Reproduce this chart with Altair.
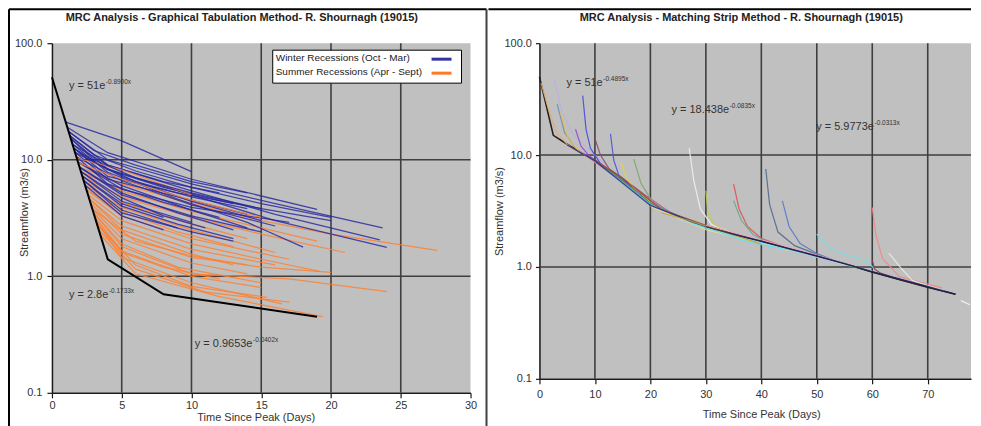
import altair as alt
import pandas as pd

FONT = "Liberation Sans"
TXT = "#333333"
GRID = "#3f3f3f"
BLUE = "#2626a0"
ORANGE = "#ff7f2e"

left_title = "MRC Analysis - Graphical Tabulation Method- R. Shournagh (19015)"
right_title = "MRC Analysis - Matching Strip Method - R. Shournagh (19015)"
y_title = "Streamflow (m3/s)"
x_title = "Time Since Peak (Days)"
legend_labels = ["Winter Recessions (Oct - Mar)", "Summer Recessions (Apr - Sept)"]
legend_colors = ["#3434a4", "#ff7a28"]

y_ticks = [0.1, 1, 10, 100]
h_grid = [1, 10]
left_x_ticks = [0, 5, 10, 15, 20, 25, 30]
left_v_grid = [5, 10, 15, 20, 25]
right_x_ticks = [0, 10, 20, 30, 40, 50, 60, 70]
right_v_grid = [10, 20, 30, 40, 50, 60, 70]

# ---------------- left panel: master recession (black) ----------------
mrc_x = [0, 4, 8, 19]
mrc_y = [51, 1.4, 0.7, 0.45]

winter_x = [
    [1.0, 5, 10],
    [1.1, 4, 10, 19],
    [1.2, 4, 10, 16, 23.7],
    [1.3, 4, 10, 16, 23.5],
    [1.4, 4, 10, 16, 24],
    [1.5, 4, 9, 14, 18],
    [1.5, 4, 8, 12],
    [1.6, 4, 8, 13],
    [1.6, 4, 9, 15],
    [1.7, 4, 9, 14],
    [1.7, 5, 10, 15],
    [1.8, 5, 10, 16],
    [1.8, 4, 8, 12],
    [1.9, 5, 10, 14],
    [1.9, 5, 10, 17],
    [2.0, 5, 9, 13],
    [2.0, 5, 10, 15],
    [2.1, 5, 8, 11],
    [2.1, 5, 10],
    [2.2, 5, 8],
    [2.2, 5, 9, 13],
    [2.3, 5, 9],
    [2.3, 5, 10, 13],
    [2.4, 5, 8],
    [1.2, 3, 6, 10, 14],
    [1.3, 3, 6, 10, 15, 20],
    [1.4, 3, 6, 10, 15, 20],
    [1.6, 3, 6, 10, 14],
]
winter_y = [
    [21, 14.5, 7.9],
    [19, 11.5, 6.8, 3.75],
    [17.5, 10, 6.2, 4.2, 2.6],
    [16, 9, 5.4, 3.4, 2.05],
    [15, 8.3, 5.0, 3.0, 1.77],
    [13.5, 7.8, 4.6, 2.9, 1.78],
    [13.5, 9, 6.5, 5.2],
    [12.5, 8.2, 5.8, 4.2],
    [12.5, 7.2, 5.2, 3.8],
    [11.5, 6.8, 4.8, 3.4],
    [11.5, 7.2, 4.4, 3.0],
    [10.5, 6.6, 4.1, 2.7],
    [10.5, 6.2, 4.3, 3.2],
    [9.5, 6.0, 3.7, 2.6],
    [9.5, 5.6, 3.9, 2.9],
    [8.6, 5.2, 3.5, 2.5],
    [8.6, 5.0, 3.3, 2.4],
    [7.9, 4.7, 3.3, 2.6],
    [7.9, 4.4, 2.9],
    [7.2, 4.2, 3.2],
    [7.2, 4.0, 2.8, 2.1],
    [6.6, 3.7, 2.6],
    [6.6, 3.5, 2.4, 2.0],
    [6.0, 3.3, 2.5],
    [17.5, 12, 9, 6.5, 5.2],
    [16, 11, 8, 5.8, 4.2, 3.2],
    [15, 10, 7, 5.2, 3.8, 3.0],
    [12.5, 9.5, 6.5, 4.8, 3.8],
]

summer_x = [
    [2.0, 5, 10, 15, 20, 27.6],
    [2.1, 5, 10, 15, 19],
    [2.2, 5, 10, 15, 21],
    [2.3, 5, 10, 14],
    [2.4, 5, 10, 16],
    [2.5, 5, 9, 13],
    [2.5, 5, 10, 17],
    [2.6, 5, 10, 15, 19.2],
    [2.7, 5, 10, 16],
    [2.7, 5, 10, 13],
    [2.8, 5, 10, 15, 20],
    [2.9, 5, 10, 14],
    [3.0, 5, 10, 17, 24],
    [3.0, 5, 9, 15],
    [3.1, 5, 10, 15],
    [3.2, 5, 10, 16.5],
    [3.3, 6, 10, 15.4],
    [3.4, 6, 11, 17],
    [3.5, 6, 12, 19.4],
    [3.2, 5, 8, 12],
    [1.9, 5, 10, 15],
    [1.8, 5, 10],
    [2.9, 6, 10, 14],
]
summer_y = [
    [8.6, 6.2, 4.2, 3.0, 2.3, 1.67],
    [7.9, 5.4, 3.6, 2.6, 2.0],
    [7.2, 4.8, 3.2, 2.3, 1.6],
    [6.6, 4.3, 2.8, 2.1],
    [6.0, 3.9, 2.5, 1.6],
    [5.5, 3.6, 2.4, 1.8],
    [5.5, 3.3, 2.1, 1.4],
    [5.0, 3.0, 1.9, 1.4, 1.1],
    [4.6, 2.7, 1.7, 1.25],
    [4.6, 2.5, 1.55, 1.25],
    [4.2, 2.3, 1.45, 1.2, 1.08],
    [3.8, 2.1, 1.3, 1.05],
    [3.5, 1.8, 1.05, 0.95, 0.74],
    [3.5, 1.9, 1.2, 0.88],
    [3.2, 1.65, 1.0, 0.8],
    [2.95, 1.45, 0.88, 0.58],
    [2.7, 1.25, 0.82, 0.66],
    [2.47, 1.15, 0.73, 0.6],
    [2.25, 1.05, 0.67, 0.45],
    [2.95, 1.6, 1.2, 0.95],
    [9.4, 6.8, 4.5, 3.2],
    [10.3, 8.2, 5.0],
    [3.8, 2.0, 1.5, 1.25],
]

eq_left_main = ["y = 51e", "y = 2.8e", "y = 0.9653e"]
eq_left_sup = ["-0.8900x", "-0.1733x", "-0.0402x"]
eq_left_x = [1.22, 1.22, 10.24]
eq_left_y = [43.3, 0.688, 0.262]

# ---------------- right panel ----------------
master_x = [0, 2.5, 5, 7.5, 10, 15, 20, 25, 30, 35, 40, 45, 50, 55, 60, 65, 70, 75]
master_y = [50, 15, 12.5, 10.5, 9, 6, 3.8, 2.8, 2.3, 1.95, 1.7, 1.45, 1.25, 1.07, 0.9, 0.77, 0.66, 0.57]

strip_colors = [
    "#e8a868", "#b8b0e8", "#6890b8", "#e8c040", "#4848e0", "#a048c8", "#904868",
    "#5050d8", "#e8d048", "#78a868", "#f0f0f0", "#c0d040", "#e05050", "#68a890",
    "#506888", "#5878c8", "#70e0e8", "#f08888", "#903858", "#e8f0d8", "#f4f4f4",
    "#e060d0", "#40a040", "#40c0e0", "#a05030", "#f0e080", "#a0d0f0", "#f0a0c0",
    "#303090", "#60e0f0", "#c8a030",
]
strip_x = [
    [0.3, 1.5, 3, 5, 7],
    [2.7, 4, 5.9, 9, 12],
    [3.2, 4.5, 6.5, 9, 12],
    [3.8, 5.2, 7, 9.5, 13, 18],
    [7.8, 8.4, 9.2, 11, 15],
    [6.5, 7.5, 9, 12, 16],
    [10, 11, 12.5, 15, 19, 23],
    [12.8, 13.4, 14.3, 17, 21],
    [14.8, 15.6, 17, 20, 25],
    [17, 18.3, 20, 23, 27],
    [27, 27.8, 29, 31, 35, 40],
    [30, 30.4, 31.5, 34],
    [35, 36, 37.5, 40, 44],
    [35, 36.4, 38.5, 41],
    [40.8, 41.5, 43, 46, 50, 54],
    [43.8, 45, 47, 50, 53],
    [50, 52, 55, 59, 61],
    [60, 60.6, 61.8, 64.9, 69.7, 72.6],
    [60, 60.4, 61.5, 64, 68],
    [63, 65, 67.2, 70, 73],
    [76, 77.6],
    [8, 12, 18, 25, 32],
    [9, 14, 20, 28, 36],
    [12, 20, 30, 40, 48],
    [10, 15, 22, 30, 38],
    [20, 30, 40, 45],
    [25, 35, 45, 55, 60],
    [30, 40, 50, 56],
    [5, 10, 20, 30, 40, 50, 60, 70, 75],
    [28, 33, 38, 45],
    [22, 27, 32, 40],
]
strip_y = [
    [44, 27, 16, 12.5, 10.5],
    [47, 24.8, 15.7, 11, 8.2],
    [28.5, 16, 11.5, 9.4, 7.4],
    [24, 14, 11, 9, 6.8, 4.5],
    [34, 17, 11.5, 8.4, 5.9],
    [17, 12, 9.8, 7.6, 5.6],
    [14, 10, 7.6, 6.2, 4.4, 3.2],
    [15.5, 9, 6.6, 5.0, 3.6],
    [8.5, 6.3, 5.1, 3.8, 2.75],
    [9.2, 5.6, 4.1, 3.1, 2.55],
    [11.5, 6, 3.3, 2.4, 2.0, 1.72],
    [4.8, 3.0, 2.4, 2.05],
    [5.5, 3.3, 2.3, 1.8, 1.52],
    [3.9, 2.6, 1.95, 1.68],
    [7.5, 3.6, 2.05, 1.55, 1.3, 1.1],
    [3.9, 2.3, 1.62, 1.32, 1.15],
    [1.97, 1.5, 1.3, 1.13, 0.9],
    [3.4, 2.0, 1.2, 0.82, 0.71, 0.65],
    [1.15, 0.96, 0.88, 0.8, 0.7],
    [1.33, 1.0, 0.76, 0.68, 0.61],
    [0.5, 0.46],
    [10.3, 7.3, 4.6, 2.8, 2.15],
    [9.5, 6.5, 3.7, 2.45, 1.9],
    [7.4, 3.65, 2.25, 1.65, 1.32],
    [9.0, 6.2, 3.25, 2.35, 1.8],
    [3.5, 2.15, 1.62, 1.4],
    [2.65, 1.9, 1.42, 1.05, 0.92],
    [2.35, 1.74, 1.28, 1.05],
    [12.3, 8.9, 3.55, 2.28, 1.7, 1.26, 0.91, 0.67, 0.57],
    [2.4, 2.0, 1.65, 1.42],
    [3.05, 2.6, 2.15, 1.6],
]

eq_right_main = ["y = 51e", "y = 18.438e", "y = 5.9773e"]
eq_right_sup = ["-0.4895x", "-0.0835x", "-0.0313x"]
eq_right_x = [4.86, 23.8, 49.9]
eq_right_y = [44, 25.2, 17.8]

# ---------------- helpers ----------------
ARIAL = {" ": 278, "=": 584, ".": 278, "e": 556, "y": 500, "-": 333, "x": 500}


def text_width(s, size):
    return sum(ARIAL.get(c, 556) for c in s) / 1000 * size


one = pd.DataFrame({"k": [0]})


def rule(color="#000000", w=2, **vals):
    enc = {k: alt.value(v) for k, v in vals.items()}
    return alt.Chart(one).mark_rule(color=color, strokeWidth=w).encode(**enc)


def text_px(t, x, y, size=11, weight="normal", align="left"):
    return alt.Chart(one).mark_text(
        font=FONT, fontSize=size, fontWeight=weight, align=align, baseline="middle", color="#222222"
    ).encode(x=alt.value(x), y=alt.value(y), text=alt.value(t))


def make_x(domain, ticks, title_x, title_y, tick_size, pad):
    return alt.X(
        "x:Q",
        scale=alt.Scale(domain=domain, nice=False, zero=False),
        axis=alt.Axis(values=ticks, format="d", grid=False, title=x_title, labelFlush=False,
                      labelOverlap=False, tickSize=tick_size, labelPadding=pad,
                      titleX=title_x, titleY=title_y, titleAlign="center", titleBaseline="middle"),
    )


def make_y(title_x, title_y, tick_size, pad):
    return alt.Y(
        "y:Q",
        scale=alt.Scale(type="log", domain=[0.1, 100], nice=False),
        axis=alt.Axis(values=y_ticks, format=".1f", grid=False, title=y_title, labelFlush=False,
                      labelOverlap=False, tickSize=tick_size, labelPadding=pad,
                      titleX=title_x, titleY=title_y, titleAngle=270, titleAlign="center",
                      titleBaseline="middle"),
    )


def equation_layers(xe, ye, mains, sups, xs, ys):
    out = [alt.Chart(pd.DataFrame({"x": xs, "y": ys, "t": mains})).mark_text(
        font=FONT, fontSize=11, align="left", baseline="middle", color=TXT
    ).encode(x=xe, y=ye, text="t:N")]
    for m, s, x, y in zip(mains, sups, xs, ys):
        out.append(alt.Chart(pd.DataFrame({"x": [x], "y": [y], "t": [s]})).mark_text(
            font=FONT, fontSize=6.5, align="left", baseline="middle", color=TXT,
            dx=text_width(m, 11) + 0.5, dy=-4
        ).encode(x=xe, y=ye, text="t:N"))
    return out


# ---------------- left panel ----------------
xl = make_x([0, 30], left_x_ticks, 204, 25, 5, 2)
yl = make_y(-27, 169, 5, 5)

rows = []
n = max(len(winter_x), len(summer_x))
for i in range(n):
    if i < len(winter_x):
        for j, (x, y) in enumerate(zip(winter_x[i], winter_y[i])):
            rows.append({"id": f"w{i:02d}", "season": "Winter", "x": x, "y": y, "o": j})
    if i < len(summer_x):
        for j, (x, y) in enumerate(zip(summer_x[i], summer_y[i])):
            rows.append({"id": f"s{i:02d}", "season": "Summer", "x": x, "y": y, "o": j})
rec_df = pd.DataFrame(rows)

left_layers = [
    alt.Chart(pd.DataFrame({"x": left_v_grid})).mark_rule(color=GRID, strokeWidth=1.6).encode(x=xl),
    alt.Chart(pd.DataFrame({"y": h_grid})).mark_rule(color=GRID, strokeWidth=1.6).encode(y=yl),
    alt.Chart(rec_df).mark_line(strokeWidth=1.25, opacity=0.82).encode(
        x=xl, y=yl, detail="id:N", order="o:Q",
        color=alt.Color("season:N", scale=alt.Scale(domain=["Winter", "Summer"], range=[BLUE, ORANGE]), legend=None),
    ),
    alt.Chart(pd.DataFrame({"x": mrc_x, "y": mrc_y})).mark_line(color="#000000", strokeWidth=2).encode(x=xl, y=yl),
]
left_layers += equation_layers(xl, yl, eq_left_main, eq_left_sup, eq_left_x, eq_left_y)
left_layers += [
    alt.Chart(one).mark_rect(fill="white", stroke="#000000", strokeWidth=1).encode(
        x=alt.value(221), x2=alt.value(410), y=alt.value(7), y2=alt.value(40)),
    text_px(legend_labels[0], 224, 15, size=10),
    text_px(legend_labels[1], 224, 29, size=10),
    rule(color=legend_colors[0], w=3, x=380, x2=400, y=16),
    rule(color=legend_colors[1], w=3, x=380, x2=400, y=30),
    text_px(left_title, 190, -25, size=11, weight="bold", align="center"),
    rule(color="#000000", w=2, x=-43, x2=435, y=-34),
    rule(color="#000000", w=2, x=-43, y=-34, y2=392),
    rule(color="#404040", w=2, x=435, y=-34, y2=392),
]
left = alt.layer(*left_layers).properties(width=419, height=350)

# ---------------- right panel ----------------
xr = make_x([0, 77.8], right_x_ticks, 222, 36, 5, 5)
yr = make_y(-40, 168, 4, 4)

srows = []
ids = []
for i, (xs, ys) in enumerate(zip(strip_x, strip_y)):
    ids.append(f"r{i:02d}")
    for j, (x, y) in enumerate(zip(xs, ys)):
        srows.append({"id": f"r{i:02d}", "x": x, "y": y, "o": j})
strip_df = pd.DataFrame(srows)

right_layers = [
    alt.Chart(pd.DataFrame({"x": right_v_grid})).mark_rule(color=GRID, strokeWidth=1.6).encode(x=xr),
    alt.Chart(pd.DataFrame({"y": h_grid})).mark_rule(color=GRID, strokeWidth=1.6).encode(y=yr),
    alt.Chart(pd.DataFrame({"x": master_x, "y": master_y})).mark_line(color="#202020", strokeWidth=1.6).encode(x=xr, y=yr),
    alt.Chart(strip_df).mark_line(strokeWidth=1.2, opacity=0.9).encode(
        x=xr, y=yr, detail="id:N", order="o:Q",
        color=alt.Color("id:N", scale=alt.Scale(domain=ids, range=strip_colors), legend=None),
    ),
    alt.Chart(pd.DataFrame({"x": master_x[8:], "y": master_y[8:]})).mark_line(color="#202030", strokeWidth=1.2, opacity=0.8).encode(x=xr, y=yr),
]
right_layers += equation_layers(xr, yr, eq_right_main, eq_right_sup, eq_right_x, eq_right_y)
right_layers += [
    text_px(right_title, 202, -25, size=11, weight="bold", align="center"),
    rule(color="#000000", w=2, x=-51, x2=432, y=-34),
]
right = alt.layer(*right_layers).properties(width=432, height=336)

chart = alt.hconcat(left, right, spacing=0, padding=0, background="white").resolve_scale(
    color="independent"
).configure_view(
    fill="#c0c0c0", stroke=None
).configure_axis(
    labelFont=FONT, labelFontSize=11, labelColor=TXT,
    titleFont=FONT, titleFontSize=11, titleFontWeight="normal", titleColor=TXT,
    domainColor="#1a1a1a", domainWidth=1.5, tickColor="#1a1a1a", tickWidth=1.2,
)

chart.save("out.html", embed_options={"renderer": "svg", "actions": False})
